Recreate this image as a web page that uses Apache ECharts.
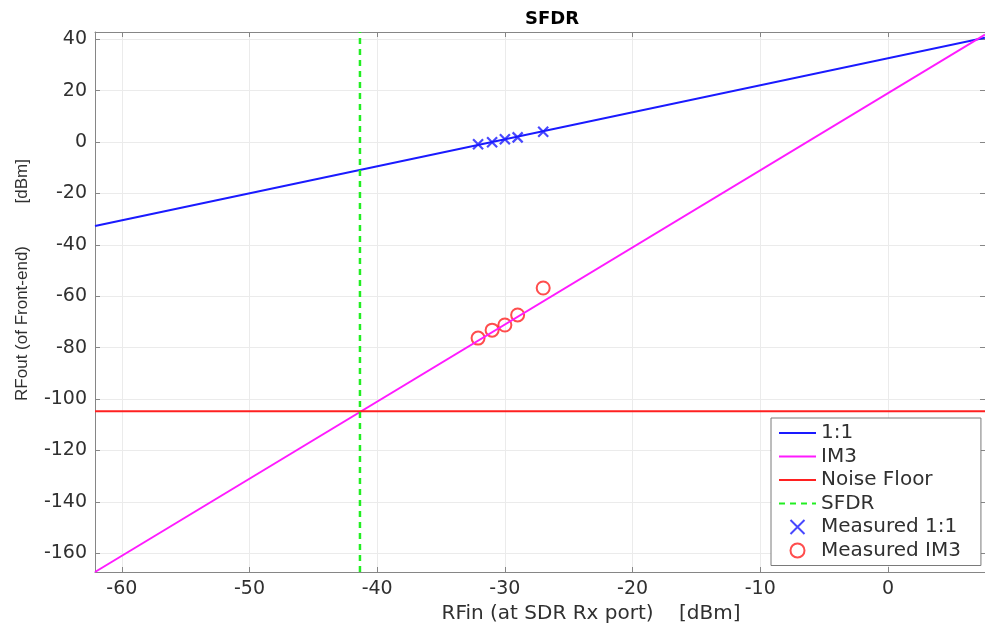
<!DOCTYPE html>
<html>
<head>
<meta charset="utf-8">
<title>SFDR</title>
<script src="https://cdn.jsdelivr.net/npm/echarts@6/dist/echarts.min.js"></script>
<style>
  html, body { margin: 0; padding: 0; background: #fff; }
  #chart { width: 985px; height: 632px; }
</style>
</head>
<body>
<div id="chart"></div>
<script>
// axis limits and ticks
let xLimits = [-62.1, 7.6];
let yLimits = [-167.3, 42.8];
let xTicks = [-60, -50, -40, -30, -20, -10, 0];
let yTicks = [-160, -140, -120, -100, -80, -60, -40, -20, 0, 20, 40];

// model lines (end points)
let lineOneToOne = [[-62.1, -32.7], [7.6, 40.6]];
let lineIM3 = [[-62.1, -167.3], [7.6, 41.8]];
let lineNoiseFloor = [[-62.1, -104.8], [7.6, -104.8]];
let lineSFDR = [[-41.35, -167.3], [-41.35, 42.8]];

// measured points
let measuredX = [-32.1, -31.0, -30.0, -29.0, -27.0];
let measured11 = [-0.9, -0.1, 1.1, 1.8, 4.0];
let measuredIM3 = [-76.3, -73.2, -71.2, -67.3, -56.8];

let chartDom = document.getElementById("chart");
let myChart = echarts.init(chartDom);
let textColor = "#303030";
let axisColor = "#868686";
let gridColor = "#ebebeb";
let font = "DejaVu Sans, sans-serif";
let font2 = "Liberation Sans, Arial, sans-serif";
let crossPath = "path://M0,0L10,10M10,0L0,10";

function pairs(ys) {
  return measuredX.map(function (x, i) {
    return [x, ys[i]];
  });
}

function mainAxis(limits, ticks, pos) {
  return {
    type: "value",
    position: pos,
    min: limits[0],
    max: limits[1],
    axisLine: { show: true, onZero: false, lineStyle: { color: axisColor, width: 1 } },
    axisTick: { show: true, inside: true, length: 5, customValues: ticks, lineStyle: { color: axisColor } },
    axisLabel: {
      show: true,
      customValues: ticks,
      color: textColor,
      fontSize: 19,
      fontFamily: font,
      margin: 8,
    },
    splitLine: { show: true, lineStyle: { color: gridColor, width: 1 } },
  };
}

function boxAxis(limits, ticks, pos) {
  return {
    type: "value",
    position: pos,
    min: limits[0],
    max: limits[1],
    axisLine: { show: true, onZero: false, lineStyle: { color: axisColor, width: 1 } },
    axisTick: { show: true, inside: true, length: 5, customValues: ticks, lineStyle: { color: axisColor } },
    axisLabel: { show: false },
    splitLine: { show: false },
  };
}

let hideSymbol = { opacity: 0 };

let option = {
  animation: false,
  backgroundColor: "#fff",
  title: {
    text: "SFDR",
    left: 547,
    top: 5,
    textAlign: "center",
    textStyle: { color: "#000", fontSize: 18, fontWeight: "bold", fontFamily: font },
  },
  grid: { left: 95, right: 0, top: 32, bottom: 60, containLabel: false },
  xAxis: [
    Object.assign(mainAxis(xLimits, xTicks, "bottom"), {
      name: "RFin (at SDR Rx port)    [dBm]",
      nameLocation: "middle",
      nameGap: 28,
      nameTextStyle: { color: textColor, fontSize: 20, fontFamily: font, padding: [0, 0, 0, 102] },
    }),
    boxAxis(xLimits, xTicks, "top"),
  ],
  yAxis: [
    Object.assign(mainAxis(yLimits, yTicks, "left"), {
      name: "RFout (of Front-end)         [dBm]",
      nameLocation: "middle",
      nameGap: 64,
      nameTextStyle: { color: textColor, fontSize: 17, fontFamily: font2, padding: [0, 0, 0, 44] },
    }),
    boxAxis(yLimits, yTicks, "right"),
  ],
  legend: {
    orient: "vertical",
    left: 771,
    top: 418,
    padding: [5, 20, 5, 7],
    itemGap: 3.5,
    itemWidth: 37,
    itemHeight: 14,
    backgroundColor: "#fff",
    borderColor: "#7a7a7a",
    borderWidth: 1,
    borderRadius: 0,
    textStyle: { color: textColor, fontSize: 20, lineHeight: 20, fontFamily: font },
    data: [
      { name: "1:1", itemStyle: hideSymbol },
      { name: "IM3", itemStyle: hideSymbol },
      { name: "Noise Floor", itemStyle: hideSymbol },
      { name: "SFDR", itemStyle: hideSymbol },
      { name: "Measured 1:1" },
      { name: "Measured IM3" },
    ],
  },
  series: [
    {
      name: "1:1",
      type: "line",
      data: lineOneToOne,
      symbol: "none",
      lineStyle: { color: "#1a1aff", width: 2 },
      itemStyle: { color: "#1a1aff" },
    },
    {
      name: "IM3",
      type: "line",
      data: lineIM3,
      symbol: "none",
      lineStyle: { color: "#ff1aff", width: 2 },
      itemStyle: { color: "#ff1aff" },
    },
    {
      name: "Noise Floor",
      type: "line",
      data: lineNoiseFloor,
      symbol: "none",
      lineStyle: { color: "#ff2020", width: 2 },
      itemStyle: { color: "#ff2020" },
    },
    {
      name: "SFDR",
      type: "line",
      data: lineSFDR,
      symbol: "none",
      lineStyle: { color: "#22ee22", width: 2.5, type: [6, 5] },
      itemStyle: { color: "#22ee22" },
    },
    {
      name: "Measured 1:1",
      type: "scatter",
      data: pairs(measured11),
      symbol: crossPath,
      symbolSize: 10,
      itemStyle: { color: "transparent", borderColor: "#1a1aff", borderWidth: 2.2 },
    },
    {
      name: "Measured IM3",
      type: "scatter",
      data: pairs(measuredIM3),
      symbol: "circle",
      symbolSize: 13,
      itemStyle: { color: "transparent", borderColor: "#ff2020", borderWidth: 2 },
    },
  ],
};

option && myChart.setOption(option);
</script>
</body>
</html>
